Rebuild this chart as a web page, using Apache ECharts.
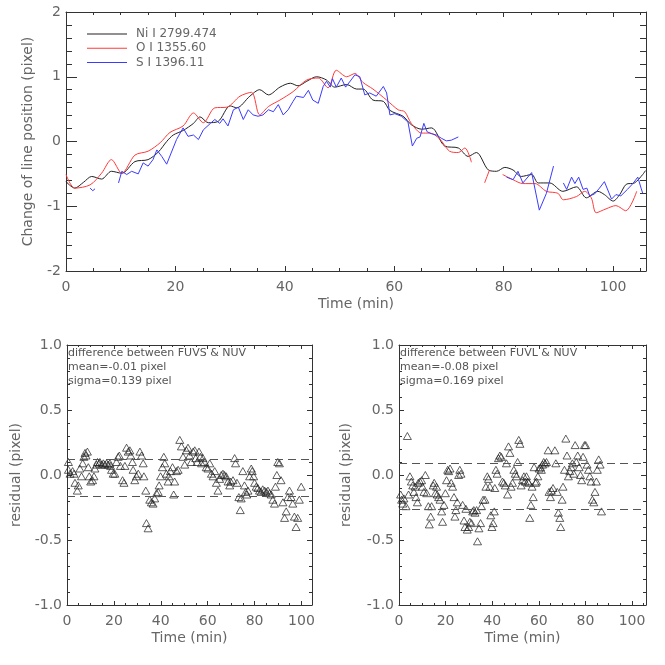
<!DOCTYPE html>
<html>
<head>
<meta charset="utf-8">
<script src="https://cdn.jsdelivr.net/npm/echarts@6/dist/echarts.min.js"></script>
<style>
  html, body { margin: 0; padding: 0; background: #fff; }
  #main { width: 665px; height: 665px; }
</style>
</head>
<body>
<div id="main"></div>
<script>
// line position vs time (top panel); null = gap in the record
var niTime = [0, 1.6, 3.2, 4.7, 6.5, 8.3, 10.2, 12.6, 15, 16.9, 18.4, 19.6, 21.4, 23.3, 24.5, 26, 27.8, 30, 31.2, 33.6, 35.4, 37, 39.1, 41, 42.4, 44, 45.8, 47.6, 49.1, 51.3, 53.1, 54.3, 56.1, 58, 59.2, 61.6, 63.1, 65, 66.8, 69.2, 71.7, 73.5, 75, 77.2, 78.7, 80.2, 81.7, 83.2, 85.1, 86.3, 88.4, 90.8, 93.3, 95.1, 97.2, 98.4, 100, 101.2, 102.4, 103.9, 105.4, 105.9];
var niPos = [-0.62, -0.72, -0.63, -0.54, -0.58, -0.46, -0.49, -0.31, -0.28, -0.16, 0.0, 0.10, 0.17, 0.28, 0.38, 0.29, 0.31, 0.55, 0.52, 0.70, 0.80, 0.72, 0.84, 0.90, 0.86, 0.93, 1.00, 0.95, 0.84, 0.88, 0.81, 0.81, 0.64, 0.62, 0.48, 0.39, 0.26, 0.19, 0.21, -0.07, -0.10, -0.23, -0.17, -0.44, -0.46, -0.40, -0.44, -0.54, -0.51, -0.64, -0.64, -0.77, -0.70, -0.87, -0.77, -0.82, -0.92, -0.82, -0.66, -0.64, -0.51, -0.45];

var oTime = [0, 1.6, 4.4, 6.5, 8.3, 10.2, 12.6, 15, 17.2, 19, 21.4, 23.3, 25.1, 27.2, 29.4, 31.8, 33.9, 35.4, 37, 39.1, 41.5, 44, 46.1, 47.9, 49.4, 51.3, 52.8, 54.3, 56.1, 58.6, 60.7, 61.9, 63.1, 65, 66.5, 68.3, 70.1, 71.7, 72.9, 74.1, 75.3, 76.5, 77.4, 78.6, 79.8, 81.7, 83.5, 85.7, 87.8, 89.9, 90.9, 93.3, 94.8, 96, 96.9, 98.7, 100.5, 102.3, 104.3];
var oPos = [-0.51, -0.72, -0.67, -0.49, -0.28, -0.49, -0.21, -0.15, -0.02, 0.14, 0.24, 0.44, 0.29, 0.52, 0.53, 0.70, 0.76, 0.41, 0.54, 0.64, 0.77, 0.95, 0.98, 0.83, 1.10, 1.00, 1.05, 0.91, 0.81, 0.64, 0.49, 0.46, 0.28, 0.13, 0.13, 0.04, -0.15, -0.17, -0.10, -0.32, null, -0.64, -0.44, null, -0.51, -0.59, -0.65, -0.65, -0.77, -0.80, -0.90, -0.85, -0.77, -0.87, -1.10, -1.04, -0.99, -1.07, -0.77];

var sTime = [4.4, 4.9, 5.3, 7.5, 9.6, 10.2, 11.1, 12, 13.2, 14.1, 15, 15.9, 16.6, 17.5, 18.4, 20.2, 21.4, 22.3, 23.3, 24.2, 25.1, 26.4, 27.2, 28.1, 28.7, 29.6, 30.6, 31.5, 32.4, 33.3, 34.2, 35.1, 36, 37, 37.9, 38.8, 39.7, 40.6, 41.5, 42.1, 43.4, 44.3, 45.1, 46.1, 47, 47.6, 48.3, 48.7, 49.4, 50.3, 51.1, 52.1, 52.8, 53.7, 54.6, 55.5, 56.7, 58, 58.6, 59.2, 60.1, 61.3, 62.5, 63.3, 64.1, 64.7, 65.4, 66, 66.8, 67.7, 68.6, 69.5, 70.4, 71.7, 76, 80.5, 81.7, 82.6, 83.5, 85.1, 86.5, 87.8, 89.1, 90, 90.9, 91.5, 92.4, 93, 93.7, 94.5, 95.2, 95.7, 96.6, 97.5, 98.4, 99.7, 100.5, 101.4, 102.6, 103.6, 104.5, 105.1, 105.4];
var sPos = [-0.72, -0.76, -0.73, null, -0.64, -0.46, -0.51, -0.46, -0.50, -0.33, -0.38, -0.28, -0.13, -0.23, -0.35, 0.03, 0.21, 0.08, 0.10, 0.03, 0.18, 0.28, 0.34, 0.28, 0.35, 0.24, 0.49, 0.53, 0.34, 0.49, 0.41, 0.39, 0.41, 0.49, 0.46, 0.57, 0.41, 0.49, 0.62, 0.70, 0.68, 0.79, 0.64, 0.59, 0.85, 0.93, 0.84, 0.97, 0.84, 0.98, 0.84, 0.95, 1.03, 1.00, 0.72, 0.75, 0.70, 0.85, 0.75, 0.41, 0.43, 0.39, 0.30, -0.07, 0.05, 0.07, 0.28, 0.15, 0.12, 0.10, 0.05, 0.01, 0.02, 0.07, null, -0.55, -0.59, -0.46, -0.64, -0.48, -1.06, -0.80, -0.38, null, -0.64, -0.74, -0.55, -0.65, -0.55, -0.74, -0.72, -0.84, -0.81, -0.72, -0.62, -0.89, -0.82, -0.84, -0.74, -0.65, -0.55, -0.72, -0.80];

var lineNames = ['Ni I 2799.474', 'O I 1355.60', 'S I 1396.11'];

// residuals, FUVS - NUV
var fuvsTime = [0.6, 0.6, 1.3, 2.4, 3.0, 3.4, 4.4, 4.8, 5.5, 6.2, 6.7, 7.2, 7.7, 8.1, 8.7, 9.1, 9.5, 10.1, 10.9, 11.5, 11.9, 12.6, 13.0, 13.8, 14.0, 14.8, 15.5, 16.2, 16.9, 17.6, 18.3, 18.6, 19.0, 19.7, 20.4, 21.1, 21.8, 22.3, 22.8, 23.7, 24.3, 24.7, 25.4, 26.1, 26.8, 27.2, 27.9, 28.2, 28.9, 29.6, 30.4, 31.1, 31.8, 32.5, 32.8, 33.6, 33.9, 34.6, 35.3, 36.0, 36.7, 37.4, 38.2, 38.9, 39.3, 39.9, 40.7, 41.3, 41.7, 42.4, 43.1, 43.5, 44.1, 45.0, 45.5, 45.9, 46.7, 47.4, 48.1, 48.8, 49.5, 50.2, 50.9, 51.6, 52.3, 53.0, 53.8, 54.5, 54.9, 55.5, 56.3, 56.9, 57.4, 58.0, 58.7, 59.4, 60.1, 60.9, 61.6, 62.3, 63.0, 63.7, 64.4, 65.1, 65.8, 66.5, 67.2, 67.9, 68.7, 69.4, 69.8, 70.8, 71.5, 71.9, 72.5, 73.3, 73.9, 74.3, 75.0, 75.7, 76.2, 76.7, 77.2, 77.9, 78.6, 79.0, 79.6, 80.0, 80.7, 81.4, 82.1, 82.8, 83.5, 84.3, 85.0, 85.7, 86.4, 87.1, 87.8, 88.5, 88.9, 89.5, 89.9, 90.6, 91.3, 92.1, 92.8, 93.5, 94.2, 94.9, 95.6, 96.3, 97.0, 97.7, 98.4, 99.1, 99.9];
var fuvsRes = [0.10, 0.04, 0.01, 0.03, 0.01, -0.06, -0.12, -0.08, 0.05, -0.01, 0.09, 0.14, 0.17, 0.15, 0.18, 0.06, -0.01, -0.05, -0.04, -0.01, 0.05, 0.08, 0.10, 0.09, 0.10, 0.08, 0.09, 0.08, 0.09, 0.08, 0.09, 0.07, 0.04, 0.01, 0.01, 0.10, 0.14, 0.15, 0.07, -0.04, -0.06, 0.07, 0.21, 0.18, 0.19, 0.15, 0.10, 0.04, -0.04, -0.01, 0.01, 0.18, 0.15, 0.09, -0.01, -0.12, -0.37, -0.41, -0.19, -0.21, -0.22, -0.18, -0.14, -0.13, -0.08, -0.01, 0.06, 0.14, 0.09, 0.01, -0.05, -0.01, 0.03, 0.06, -0.15, -0.05, 0.03, 0.04, 0.27, 0.22, 0.14, 0.08, 0.19, 0.21, 0.15, 0.10, 0.18, 0.19, 0.13, 0.10, 0.18, 0.14, 0.09, 0.13, 0.10, 0.06, 0.05, 0.09, 0.01, -0.01, 0.03, -0.06, -0.12, -0.03, 0.00, 0.01, 0.00, -0.01, -0.05, -0.08, -0.05, -0.04, 0.13, 0.09, -0.06, -0.17, -0.27, -0.18, 0.03, -0.08, -0.13, -0.15, -0.12, -0.01, 0.05, 0.03, -0.01, -0.06, -0.09, -0.10, -0.12, -0.13, -0.11, -0.12, -0.13, -0.12, -0.14, -0.15, -0.19, -0.22, -0.09, 0.00, 0.10, 0.09, -0.04, -0.21, -0.33, -0.28, -0.17, -0.12, -0.17, -0.22, -0.32, -0.40, -0.33, -0.19, -0.09];
var fuvsBand = [0.122, -0.158];
var fuvsNote = ['difference between FUVS & NUV', 'mean=-0.01 pixel', 'sigma=0.139 pixel'];

// residuals, FUVL - NUV
var fuvlTime = [0.7, 1.1, 1.6, 2.1, 3.0, 3.6, 4.1, 4.7, 5.3, 5.9, 6.4, 6.9, 7.3, 7.9, 8.3, 9.0, 9.7, 10.1, 10.7, 11.3, 11.9, 12.6, 13.0, 13.6, 14.0, 14.7, 15.1, 15.6, 16.1, 16.4, 17.0, 17.6, 18.3, 18.7, 19.3, 19.9, 20.4, 20.9, 21.3, 21.9, 22.4, 23.0, 23.6, 24.0, 24.4, 25.0, 25.6, 26.1, 26.6, 27.3, 27.9, 28.3, 28.7, 29.3, 29.9, 30.4, 31.1, 31.6, 32.1, 32.6, 33.3, 33.7, 34.3, 35.0, 35.4, 36.1, 36.9, 37.3, 37.9, 38.4, 39.0, 39.4, 39.9, 40.4, 40.9, 41.1, 41.6, 42.1, 42.7, 43.3, 43.9, 44.4, 45.0, 45.6, 46.1, 46.6, 47.0, 47.6, 48.1, 48.7, 49.3, 49.9, 50.4, 50.9, 51.4, 51.9, 52.4, 53.0, 53.6, 54.1, 54.7, 55.3, 55.7, 56.1, 56.6, 57.1, 57.6, 58.0, 58.6, 59.0, 59.6, 60.1, 60.7, 61.1, 61.6, 62.1, 62.7, 63.3, 64.0, 64.4, 65.0, 65.4, 66.1, 66.9, 67.3, 67.9, 68.4, 69.0, 69.4, 70.0, 70.4, 71.0, 71.6, 72.1, 72.7, 73.3, 73.9, 74.4, 75.0, 75.6, 76.1, 76.7, 77.3, 77.9, 78.4, 79.0, 79.6, 80.1, 80.7, 81.3, 81.9, 82.4, 83.0, 83.6, 84.1, 84.7, 85.1, 85.7, 86.3, 86.9];
var fuvlRes = [-0.15, -0.19, -0.22, -0.18, -0.24, 0.30, -0.15, -0.01, -0.05, -0.08, -0.13, -0.09, -0.17, -0.21, -0.06, -0.05, -0.04, -0.09, -0.13, 0.00, -0.14, -0.24, -0.38, -0.32, -0.24, -0.08, -0.06, -0.14, -0.09, -0.15, -0.17, -0.19, -0.28, -0.36, -0.23, -0.14, -0.04, 0.04, 0.03, 0.05, -0.06, -0.09, -0.17, -0.32, -0.27, -0.21, 0.00, 0.04, 0.01, -0.23, -0.35, -0.40, -0.26, -0.42, -0.40, -0.36, -0.37, -0.28, -0.27, -0.29, -0.27, -0.51, -0.41, -0.37, -0.24, -0.19, -0.19, -0.09, -0.01, -0.03, -0.09, -0.31, -0.40, -0.37, -0.28, -0.10, 0.04, 0.01, 0.13, 0.15, 0.14, -0.05, -0.06, -0.08, 0.09, -0.15, 0.22, 0.17, -0.09, -0.06, 0.04, 0.01, -0.01, 0.10, 0.27, 0.24, -0.08, -0.04, -0.01, -0.05, -0.01, -0.05, -0.06, -0.33, -0.23, -0.09, -0.17, 0.06, -0.06, -0.05, -0.01, 0.05, 0.06, 0.04, 0.08, 0.10, 0.09, 0.10, 0.19, -0.13, -0.17, -0.12, -0.10, 0.19, 0.09, -0.13, -0.29, -0.33, -0.40, -0.19, -0.09, 0.04, 0.28, 0.15, -0.01, 0.03, 0.06, 0.09, 0.01, 0.23, 0.10, 0.15, 0.06, 0.00, -0.04, 0.14, 0.23, 0.23, 0.08, 0.04, -0.01, -0.05, -0.19, -0.21, -0.13, -0.05, 0.04, 0.12, 0.08, -0.28];
var fuvlBand = [0.09, -0.255];
var fuvlNote = ['difference between FUVL & NUV', 'mean=-0.08 pixel', 'sigma=0.169 pixel'];

var FONT = 'DejaVu Sans';
var TXT = '#666';
var AXC = '#333';

function pairs(t, v) {
  return t.map(function (x, i) { return [x, v[i] === null ? '-' : v[i]]; });
}

// one panel = bottom+top x axes and left+right y axes, IDL style ticks on all sides
function xAxes(gi, max, name, nameGap, tl) {
  var common = {
    type: 'value', gridIndex: gi, min: 0, max: max, interval: 20,
    splitLine: { show: false },
    axisLine: { onZero: false, lineStyle: { color: AXC, width: 1 } },
    axisTick: { inside: true, length: tl[0], lineStyle: { color: AXC } },
    minorTick: { show: true, splitNumber: 4, length: tl[1], lineStyle: { color: AXC } }
  };
  var bottom = Object.assign({}, common, {
    position: 'bottom',
    name: name, nameLocation: 'middle', nameGap: nameGap,
    nameTextStyle: { fontFamily: FONT, fontSize: 14, color: TXT },
    axisLabel: {
      margin: 9, fontFamily: FONT, fontSize: 14, color: TXT,
      formatter: function (v) { return v % 20 === 0 ? String(v) : ''; }
    }
  });
  var top = Object.assign({}, common, { position: 'top', axisLabel: { show: false } });
  return [bottom, top];
}

function yAxes(gi, lim, step, digits, name, nameGap, tl) {
  var common = {
    type: 'value', gridIndex: gi, min: -lim, max: lim, interval: step,
    splitLine: { show: false },
    axisLine: { onZero: false, lineStyle: { color: AXC, width: 1 } },
    axisTick: { inside: true, length: tl[0], lineStyle: { color: AXC } },
    minorTick: { show: true, splitNumber: 5, length: tl[1], lineStyle: { color: AXC } }
  };
  var left = Object.assign({}, common, {
    position: 'left',
    name: name, nameLocation: 'middle', nameGap: nameGap,
    nameTextStyle: { fontFamily: FONT, fontSize: 14, color: TXT },
    axisLabel: {
      margin: 5, fontFamily: FONT, fontSize: 14, color: TXT,
      formatter: function (v) { return v.toFixed(digits); }
    }
  });
  var right = Object.assign({}, common, { position: 'right', axisLabel: { show: false } });
  return [left, right];
}

function residualSeries(gi, t, r, band) {
  return {
    type: 'scatter', xAxisIndex: gi * 2, yAxisIndex: gi * 2,
    data: pairs(t, r),
    symbol: 'triangle', symbolSize: [8, 7],
    itemStyle: { color: 'rgba(0,0,0,0)', borderColor: '#222', borderWidth: 0.9 },
    markLine: {
      silent: true, symbol: 'none', label: { show: false },
      lineStyle: { color: '#555', type: [8, 5], width: 1 },
      data: band.map(function (b) { return { yAxis: b }; })
    }
  };
}

function note(x, lines) {
  return lines.map(function (s, i) {
    return {
      type: 'text', left: x, top: 348 + i * 13.8,
      style: { text: s, fontFamily: FONT, fontSize: 11, fill: '#555' }
    };
  });
}

var chart = echarts.init(document.getElementById('main'));
chart.setOption({
  animation: false,
  backgroundColor: '#fff',
  grid: [
    { left: 66, top: 12, width: 580, height: 259 },
    { left: 67, top: 345, width: 245, height: 260 },
    { left: 399, top: 345, width: 247, height: 260 }
  ],
  legend: {
    data: lineNames, orient: 'vertical', left: 87, top: 28, padding: 0,
    icon: 'rect', itemWidth: 40, itemHeight: 1, itemGap: 2.2,
    textStyle: { fontFamily: FONT, fontSize: 12, color: TXT, padding: [0, 0, 0, 4] }
  },
  xAxis: [].concat(
    xAxes(0, 106, 'Time (min)', 26, [5, 3]),
    xAxes(1, 104.5, 'Time (min)', 26, [4, 2]),
    xAxes(2, 106, 'Time (min)', 26, [4, 2])
  ),
  yAxis: [].concat(
    yAxes(0, 2, 1, 0, 'Change of line position (pixel)', 31, [11, 6]),
    yAxes(1, 1, 0.5, 1, 'residual (pixel)', 44, [5, 3]),
    yAxes(2, 1, 0.5, 1, 'residual (pixel)', 46, [5, 3])
  ),
  graphic: [].concat(note(68, fuvsNote), note(400, fuvlNote)),
  series: [
    {
      name: lineNames[0], type: 'line', xAxisIndex: 0, yAxisIndex: 0,
      data: pairs(niTime, niPos), symbol: 'none', smooth: 0.3,
      lineStyle: { color: '#222', width: 1 }, itemStyle: { color: '#222' }
    },
    {
      name: lineNames[1], type: 'line', xAxisIndex: 0, yAxisIndex: 0,
      data: pairs(oTime, oPos), symbol: 'none', smooth: 0.3,
      lineStyle: { color: '#ff3b3b', width: 1 }, itemStyle: { color: '#ff3b3b' }
    },
    {
      name: lineNames[2], type: 'line', xAxisIndex: 0, yAxisIndex: 0,
      data: pairs(sTime, sPos), symbol: 'none',
      lineStyle: { color: '#3b3bff', width: 1 }, itemStyle: { color: '#3b3bff' }
    },
    residualSeries(1, fuvsTime, fuvsRes, fuvsBand),
    residualSeries(2, fuvlTime, fuvlRes, fuvlBand)
  ]
});
</script>
</body>
</html>
